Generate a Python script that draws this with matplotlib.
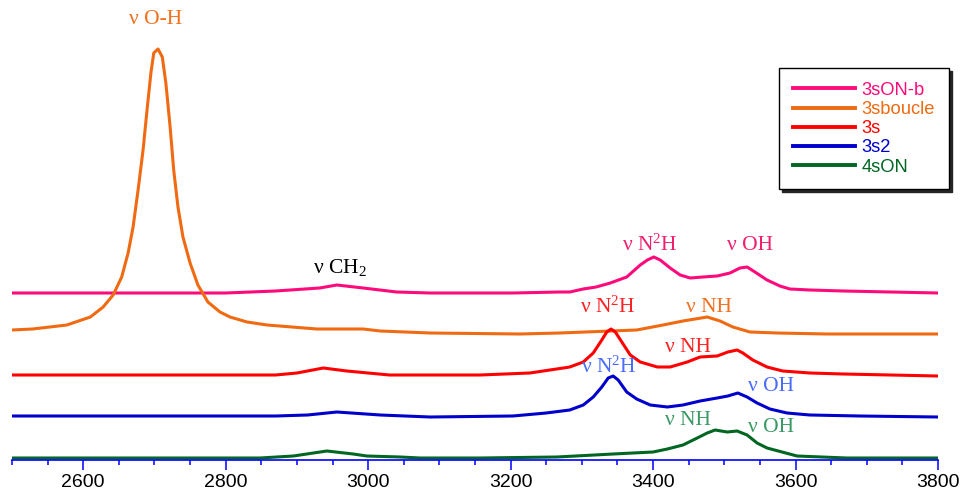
import matplotlib
matplotlib.use('Agg')
import matplotlib.pyplot as plt
from matplotlib.ticker import MultipleLocator

# stacked IR spectra (wavenumber in cm-1, intensity in arbitrary offset units)
wn_3sONb = [2500, 2800, 2870, 2932, 2956, 2993, 3040, 3087, 3203, 3269, 3283, 3302,
            3320, 3340, 3363, 3382, 3392, 3401, 3410, 3424, 3438, 3452, 3470, 3490,
            3508, 3522, 3532, 3543, 3560, 3578, 3592, 3620, 3667, 3800]
i_3sONb = [167, 167, 169, 172, 175, 172, 168, 167, 167, 168, 168, 171,
           173, 177, 183, 195, 200, 203, 200, 192, 185, 182, 183, 184,
           187, 192, 193, 188, 180, 174, 171, 170, 169, 167]

wn_3sboucle = [2500, 2529, 2577, 2610, 2628, 2642, 2654, 2663, 2670, 2677, 2684, 2690,
               2695, 2699, 2705, 2711, 2716, 2722, 2727, 2733, 2740, 2750, 2761, 2775,
               2792, 2806, 2830, 2858, 2928, 2993, 3017, 3087, 3213, 3269, 3377, 3414,
               3442, 3476, 3494, 3512, 3536, 3574, 3644, 3800]
i_3sboucle = [130, 131, 135, 143, 153, 165, 183, 207, 233, 270, 310, 353,
              387, 407, 411, 403, 377, 333, 290, 253, 223, 197, 175, 158,
              148, 143, 138, 135, 131, 131, 129, 127, 126, 127, 130, 135,
              139, 143, 139, 133, 128, 127, 126, 126]

wn_3s = [2500, 2870, 2900, 2937, 2970, 3030, 3087, 3157, 3227, 3274, 3283, 3302,
         3316, 3328, 3335, 3341, 3347, 3357, 3368, 3382, 3406, 3424, 3448, 3466,
         3490, 3505, 3518, 3526, 3540, 3560, 3582, 3620, 3667, 3800]
i_3s = [85, 85, 87, 92, 89, 85, 85, 85, 87, 92, 93, 98,
        107, 120, 128, 131, 128, 117, 105, 98, 93, 93, 98, 103,
        104, 108, 110, 107, 100, 93, 89, 87, 86, 84]

wn_3s2 = [2500, 2870, 2915, 2956, 3017, 3087, 3203, 3250, 3283, 3302, 3316, 3328,
          3337, 3344, 3351, 3363, 3377, 3396, 3420, 3442, 3466, 3490, 3505, 3519,
          3532, 3546, 3564, 3588, 3620, 3690, 3800]
i_3s2 = [44, 44, 45, 48, 45, 43, 44, 47, 50, 55, 63, 73,
         82, 84, 80, 68, 61, 55, 53, 55, 59, 62, 64, 67,
         63, 57, 51, 47, 45, 44, 43]

wn_4sON = [2500, 2848, 2895, 2942, 2979, 2998, 3045, 3073, 3157, 3265, 3344, 3400,
           3420, 3442, 3462, 3476, 3487, 3504, 3518, 3532, 3546, 3560, 3602, 3672,
           3800]
i_4sON = [2, 2, 4, 9, 6, 4, 3, 2, 2, 3, 6, 8,
          11, 15, 22, 27, 30, 28, 29, 25, 17, 12, 4, 2,
          2]

names = ['3sON-b', '3sboucle', '3s', '3s2', '4sON']
colors = ['#ff0a7a', '#f06a12', '#ff0000', '#0000cc', '#006622']

# peak labels: (text, wavenumber, height, colour)
labels = [('ν O-H', 2701, 440, '#f07020'),
          (r'ν $\mathregular{CH_2}$', 2960, 192, 'black'),
          (r'ν $\mathregular{N^2H}$', 3396, 215, '#f0206e'),
          ('ν OH', 3536, 215, '#f0206e'),
          (r'ν $\mathregular{N^2H}$', 3337, 153, '#ff2222'),
          ('ν NH', 3479, 153, '#f07020'),
          ('ν NH', 3449, 113, '#ff2222'),
          (r'ν $\mathregular{N^2H}$', 3338, 93, '#4a6cff'),
          ('ν OH', 3566, 74, '#4a6cff'),
          ('ν NH', 3449, 40, '#3a9a64'),
          ('ν OH', 3566, 33, '#3a9a64')]

fig = plt.figure(figsize=(9.62, 4.94), dpi=100)
ax = fig.add_axes([12/962, 34/494, 926/962, 460/494])

spectra = [(wn_3sONb, i_3sONb), (wn_3sboucle, i_3sboucle), (wn_3s, i_3s),
           (wn_3s2, i_3s2), (wn_4sON, i_4sON)]
for (x, y), name, c in zip(spectra, names, colors):
    ax.plot(x, y, color=c, lw=2.2, label=name, solid_joinstyle='round')

for txt, x, y, c in labels:
    ax.text(x, y, txt, color=c, ha='center', va='center', fontsize=15.5,
            family='Liberation Serif')

ax.set_xlim(2500, 3800)
ax.set_ylim(0, 460)
for s in ['left', 'right', 'top']:
    ax.spines[s].set_visible(False)
ax.spines['bottom'].set_color('#0000ff')
ax.spines['bottom'].set_linewidth(1.2)
ax.set_yticks([])
ax.xaxis.set_major_locator(MultipleLocator(200))
ax.xaxis.set_minor_locator(MultipleLocator(50))
ax.tick_params(axis='x', which='major', length=7, width=1.1, color='#0000ff',
               labelsize=14, pad=3)
ax.tick_params(axis='x', which='minor', length=3.5, width=1.1, color='#0000ff')
for t in ax.get_xticklabels():
    t.set_family('Liberation Sans')

leg = ax.legend(loc='upper left', bbox_to_anchor=(779/962, 1 - 68/494),
                bbox_transform=fig.transFigure, borderaxespad=0, fancybox=False,
                shadow={'color': '0.15', 'alpha': 1}, edgecolor='black',
                framealpha=1, handlelength=3.4, handletextpad=0.35,
                labelspacing=0.12, borderpad=0.75, labelcolor='linecolor',
                prop={'family': 'Liberation Sans', 'size': 13.2})
leg.get_frame().set_linewidth(1.0)
for h in leg.legend_handles:
    h.set_linewidth(2.8)

fig.savefig('out.png', dpi=100)
